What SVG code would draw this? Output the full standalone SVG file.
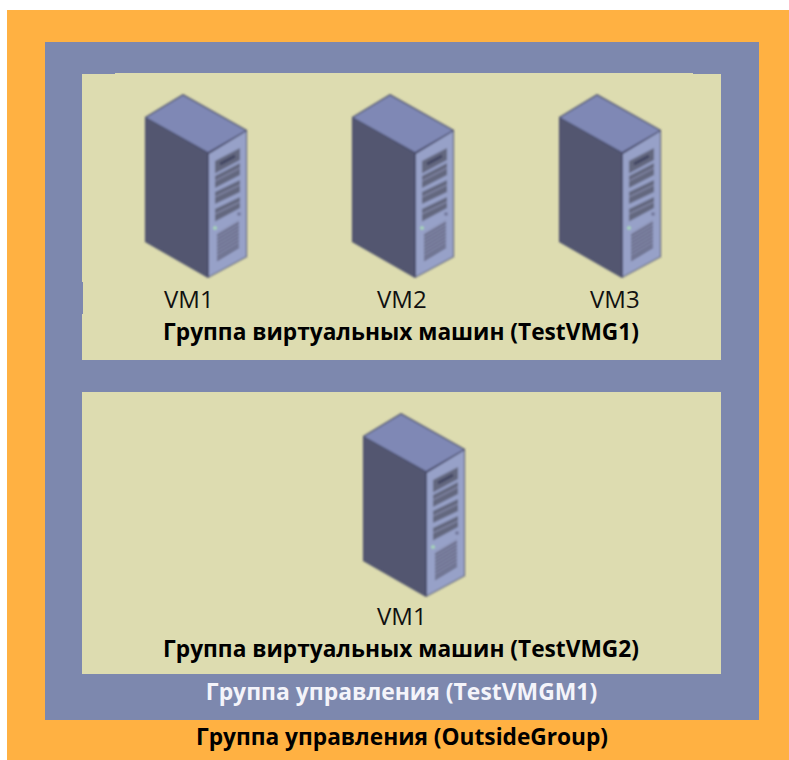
<svg xmlns="http://www.w3.org/2000/svg" xmlns:xlink="http://www.w3.org/1999/xlink" width="789" height="760" viewBox="0 0 789 760">
<style>
text{font-family:"Open Sans","Noto Sans","Liberation Sans",sans-serif;font-size:24px;fill:#111}
.b{font-weight:700;fill:#000;font-size:22.7px}
.w{font-weight:700;fill:#f4f4fa;font-size:22.9px}
.panel{fill:#dddcb0}
</style>
<defs>
<filter id="soft" x="-5%" y="-5%" width="110%" height="110%"><feGaussianBlur stdDeviation="0.8"/></filter>
<g id="server" filter="url(#soft)">
<polygon points="183,94 247,130 247,257 208,278 145,242 145,117" fill="#484c6a"/>
<polygon points="183,95.500 245.500,130.500 208,152 146.500,117.500" fill="#7f88b5"/>
<polygon points="146,118 207,153 207,276.500 146,241.500" fill="#525670"/>
<polygon points="209,154 246,131.500 246,256.500 209,276.500" fill="#97a1c8"/>
<g fill="#63677f">
<polygon points="215,161 240,148 240,160 215,173.500"/>
<polygon points="215,176 240,163 240,175 215,188"/>
<polygon points="215,192 240,180 240,192 215,204"/>
<polygon points="215,209 240,197 240,208 215,221.500"/>
</g>
<g stroke="#8f94b6" stroke-width="1" fill="none">
<path d="M215,181 240,168M215,197 240,185M215,214 240,202"/>
</g>
<path d="M220,164 235,156" stroke="#3f4460" stroke-width="3"/>
<polygon points="217,233 239,220 239,248 217,262" fill="#8a90b2"/>
<path d="M217,236 239,223M217,239.500 239,226.500M217,243 239,230M217,246.500 239,233.500M217,250 239,237M217,253.500 239,240.500M217,257 239,244M217,260 239,247" stroke="#53566f" stroke-width="1.300" fill="none"/>
<circle cx="215" cy="228" r="1.800" fill="#a9e0b4"/>
<circle cx="239" cy="214" r="1.800" fill="#6b6f92"/>
</g>
</defs>
<rect width="789" height="760" fill="#fff"/>
<g id="outside-group">
<rect x="7" y="10" width="782" height="750" fill="#ffb142"/>
<text class="b" x="402" y="745" text-anchor="middle">Группа управления (OutsideGroup)</text>
</g>
<g id="management-group">
<rect x="45" y="42" width="714" height="678" fill="#7d88ae"/>
<text class="w" x="401.500" y="700" text-anchor="middle">Группа управления (TestVMGM1)</text>
</g>
<g id="vm-group-1">
<rect class="panel" x="82" y="74" width="639" height="286"/>
<rect class="panel" x="115" y="73" width="578" height="1"/>
<rect x="82" y="282" width="1" height="32" fill="#7d88ae"/>
<text class="b" x="401" y="340" text-anchor="middle">Группа виртуальных машин (TestVMG1)</text>
</g>
<g id="vm-group-2">
<rect class="panel" x="82" y="392" width="639" height="282"/>
<text class="b" x="401" y="657" text-anchor="middle">Группа виртуальных машин (TestVMG2)</text>
</g>
<g id="vm1">
<use href="#server" xlink:href="#server"/>
<text x="164" y="308">VM1</text>
</g>
<g id="vm2">
<use href="#server" xlink:href="#server" transform="translate(207 0)"/>
<text x="377" y="308">VM2</text>
</g>
<g id="vm3">
<use href="#server" xlink:href="#server" transform="translate(414 0)"/>
<text x="590" y="308">VM3</text>
</g>
<g id="vm1-group-2">
<use href="#server" xlink:href="#server" transform="translate(218 319)"/>
<text x="377" y="625">VM1</text>
</g>
<g id="connectors"/>
</svg>
